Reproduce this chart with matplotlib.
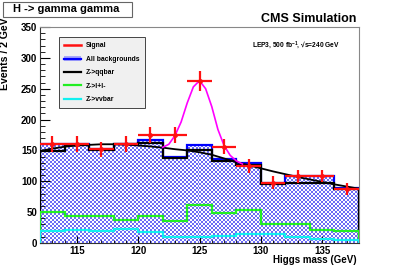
import numpy as np
import matplotlib
matplotlib.use('Agg')
import matplotlib.pyplot as plt
from matplotlib.colors import ListedColormap
from matplotlib.patches import Patch, Rectangle
from matplotlib.lines import Line2D

plt.rcParams['font.family'] = ['Liberation Sans', 'DejaVu Sans']
plt.rcParams['font.weight'] = 'bold'
plt.rcParams['mathtext.fontset'] = 'custom'
plt.rcParams['mathtext.rm'] = 'Liberation Sans:bold'
plt.rcParams['mathtext.it'] = 'Liberation Sans:bold'
plt.rcParams['mathtext.bf'] = 'Liberation Sans:bold'

# 2 GeV bins
edges = [112, 114, 116, 118, 120, 122, 124, 126, 128, 130, 132, 134, 136, 138]
centers = [113, 115, 117, 119, 121, 123, 125, 127, 129, 131, 133, 135, 137]

all_bkg = [161, 161, 153, 161, 167, 140, 158, 136, 129, 98, 108, 108, 89]
zqq = [149, 158, 151, 160, 162, 137, 151, 133, 126, 95, 98, 98, 87]
zll = [51, 44, 44, 38, 44, 35, 61, 49, 54, 31, 31, 21, 19]
zvv = [19, 21, 19, 22, 17.5, 10.5, 10, 12, 14, 14, 10.5, 6, 5]

signal = [161, 161, 152, 160, 175, 175, 263, 156, 125, 98, 108, 109, 87]
signal_err = [13, 13, 12, 13, 13, 13, 16, 12.5, 11, 10, 10, 10, 9.5]

# background fit curve (black) and signal+background fit (magenta)
fit_x = [112, 113, 114, 115, 116, 117, 118, 119, 120, 121, 122, 123, 124, 125,
         126, 127, 128, 129, 130, 131, 132, 133, 134, 135, 136, 137, 138]
fit_y = [149, 153, 156, 158, 159, 160, 160, 159.5, 158, 156.5, 154.5, 152, 150, 147,
         143, 137, 131, 126, 121, 116, 111.5, 107, 103, 99, 95, 91.5, 88]
peak_x = [122.0, 122.5, 123.0, 123.5, 124.0, 124.5, 125.0, 125.5, 126.0, 126.5,
          127.0, 127.5, 128.0, 128.5]
peak_y = [155, 160, 174, 196, 227, 253, 263, 250, 221, 184, 158, 142, 133, 128]

fig = plt.figure(figsize=(3.99, 2.70), dpi=100)
ax = fig.add_axes([0.1003, 0.1, 0.7994, 0.8])

# checker pattern fill for all backgrounds
clip = ax.stairs(all_bkg, edges, fill=True, facecolor='none', edgecolor='none')
ii, jj = np.indices((108, 160))
checker = (ii + jj) % 2
im = ax.imshow(checker, extent=[112, 138, 0, 350], aspect='auto',
               interpolation='nearest', origin='lower',
               cmap=ListedColormap(['white', '#6c6cf6']), zorder=1)
im.set_clip_path(clip)

ax.stairs(all_bkg, edges, color='#0000ff', lw=1.6, zorder=2)
ax.stairs(zqq, edges, color='black', lw=1.6, zorder=3)
ax.stairs(zll, edges, color='#22ee22', lw=1.6, zorder=3)
ax.stairs(zvv, edges, color='#11f0f0', lw=1.6, zorder=3)
ax.plot(fit_x, fit_y, color='black', lw=1.3, zorder=4)
ax.plot(peak_x, peak_y, color='#ff00ff', lw=1.2, zorder=5)
ax.errorbar(centers, signal, yerr=signal_err, xerr=1, fmt='o', ms=2.5,
            color='#ff1111', elinewidth=1.6, capsize=0, zorder=6)

ax.set_xlim(112, 138)
ax.set_ylim(0, 350)
ax.set_xticks([115, 120, 125, 130, 135])
ax.set_xticks(np.arange(112, 139, 1), minor=True)
ax.set_yticks(np.arange(0, 351, 50))
ax.set_yticks(np.arange(0, 351, 10), minor=True)
ax.tick_params(which='both', direction='in', top=False, right=False,
               labelsize=7, pad=2)
ax.tick_params(axis='y', which='major', length=7)
ax.tick_params(axis='y', which='minor', length=3.5)
ax.tick_params(axis='x', which='major', length=5)
ax.tick_params(axis='x', which='minor', length=2.5)
for lab in ax.get_xticklabels() + ax.get_yticklabels():
    lab.set_fontweight('bold')
for s in ['top', 'right']:
    ax.spines[s].set_color('#888888')
for s in ['left', 'bottom']:
    ax.spines[s].set_color('#333333')

handles = [Line2D([], [], color='#ff1111', lw=1.8),
           (Patch(facecolor='#a8a8fa', edgecolor='none'), Line2D([], [], color='#0000ff', lw=1.6)),
           Line2D([], [], color='black', lw=1.6),
           Line2D([], [], color='#22ee22', lw=1.6),
           Line2D([], [], color='#11f0f0', lw=1.6)]
labels = ['Signal', 'All backgrounds', 'Z->qqbar', 'Z->l+l-', 'Z->vvbar']
leg = ax.legend(handles, labels, loc='upper left', bbox_to_anchor=(0.06, 0.952),
                fontsize=4.9, frameon=True, fancybox=False, framealpha=1,
                facecolor='#f0f0f0', edgecolor='#444444', handlelength=2.5,
                labelspacing=0.95, borderpad=0.75, handletextpad=0.7,
                borderaxespad=0)
leg.get_frame().set_linewidth(0.7)
leg.set_zorder(10)

ax.text(0.94, 0.915, 'LEP3, 500 fb$^{-1}$, \u221as=240 GeV',
        transform=ax.transAxes, ha='right', va='center', fontsize=4.8, fontweight='bold')

fig.text(0.892, 0.918, 'CMS Simulation', ha='right', va='baseline',
         fontsize=9, fontweight='bold')
fig.patches.append(Rectangle((3 / 399, 1 - 17 / 270), 129 / 399, 15 / 270,
                             transform=fig.transFigure, facecolor='white',
                             edgecolor='#666666', lw=0.8))
fig.text(66 / 399, 1 - 9.5 / 270, 'H -> gamma gamma', ha='center', va='center',
         fontsize=8, fontweight='bold')
fig.text(0.013, 0.935, 'Events / 2 GeV', rotation=90, ha='center', va='top',
         fontsize=7.6, fontweight='bold')
fig.text(0.895, 0.036, 'Higgs mass (GeV)', ha='right', va='center',
         fontsize=7, fontweight='bold')

fig.savefig('out.png', dpi=100)
